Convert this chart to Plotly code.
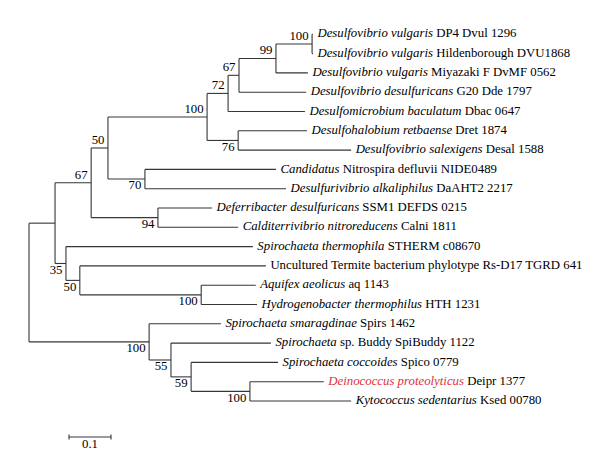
import plotly.graph_objects as go

# ---------------- data ----------------
leaf_italic = [
    "Desulfovibrio vulgaris", "Desulfovibrio vulgaris", "Desulfovibrio vulgaris",
    "Desulfovibrio desulfuricans", "Desulfomicrobium baculatum", "Desulfohalobium retbaense",
    "Desulfovibrio salexigens", "Candidatus", "Desulfurivibrio alkaliphilus",
    "Deferribacter desulfuricans", "Calditerrivibrio nitroreducens", "Spirochaeta thermophila",
    "", "Aquifex aeolicus", "Hydrogenobacter thermophilus", "Spirochaeta smaragdinae",
    "Spirochaeta", "Spirochaeta coccoides", "Deinococcus proteolyticus", "Kytococcus sedentarius",
]
leaf_rest = [
    " DP4 Dvul 1296", " Hildenborough DVU1868", " Miyazaki F DvMF 0562",
    " G20 Dde 1797", " Dbac 0647", " Dret 1874",
    " Desal 1588", " Nitrospira defluvii NIDE0489", " DaAHT2 2217",
    " SSM1 DEFDS 0215", " Calni 1811", " STHERM c08670",
    "Uncultured Termite bacterium phylotype Rs-D17 TGRD 641", " aq 1143", " HTH 1231", " Spirs 1462",
    " sp. Buddy SpiBuddy 1122", " Spico 0779", " Deipr 1377", " Ksed 00780",
]
# distance of each leaf tip from the root (substitutions per site)
leaf_depth = [0.676, 0.676, 0.664, 0.660, 0.657, 0.662, 0.767, 0.588, 0.612, 0.436,
              0.498, 0.533, 0.564, 0.540, 0.543, 0.457, 0.576, 0.593, 0.702, 0.767]
highlight_leaf = 18

node_names = ["H", "G", "F", "E", "I", "D", "J", "C", "K", "B", "N", "M", "L", "A",
              "R", "Q", "P", "O", "root"]
node_children = [
    ["L0", "L1"], ["H", "L2"], ["G", "L3"], ["F", "L4"], ["L5", "L6"], ["E", "I"],
    ["L7", "L8"], ["D", "J"], ["L9", "L10"], ["C", "K"], ["L13", "L14"], ["L12", "N"],
    ["L11", "M"], ["B", "L"], ["L18", "L19"], ["L17", "R"], ["L16", "Q"], ["L15", "P"],
    ["A", "O"],
]
node_depth = [0.674, 0.588, 0.500, 0.474, 0.498, 0.424, 0.276, 0.188, 0.307, 0.148,
              0.410, 0.121, 0.088, 0.062, 0.526, 0.386, 0.338, 0.286, 0.0]
node_support = [100, 99, 67, 72, 76, 100, 70, 50, 94, 67, 100, 50, 35, None,
                100, 59, 55, 100, None]

scale_bar_length = 0.1
scale_bar_label = "0.1"

# ---------------- layout helpers ----------------
PX_PER_UNIT = 420.0
ROOT_PX = 21.0
LEAF0_PX = 26.3
LEAF_STEP = 19.3
W, H = 600, 463

pos = {}
for i, d in enumerate(leaf_depth):
    pos["L%d" % i] = (d, float(i))

idx = {n: k for k, n in enumerate(node_names)}


def place(name):
    if name in pos:
        return pos[name]
    k = idx[name]
    ys = [place(c)[1] for c in node_children[k]]
    pos[name] = (node_depth[k], (min(ys) + max(ys)) / 2.0)
    return pos[name]


place("root")

lx, ly = [], []
for k, n in enumerate(node_names):
    x, y = pos[n]
    ys = [pos[c][1] for c in node_children[k]]
    lx += [x, x, None]
    ly += [min(ys), max(ys), None]
    for c in node_children[k]:
        cx, cy = pos[c]
        lx += [x, cx, None]
        ly += [cy, cy, None]

fig = go.Figure()
fig.add_trace(go.Scatter(x=lx, y=ly, mode="lines",
                         line=dict(color="#363636", width=1.1),
                         hoverinfo="skip", showlegend=False))

FONT = "Liberation Serif"

# leaf labels as a text trace
tx, ty, tt = [], [], []
for i in range(len(leaf_depth)):
    x, y = pos["L%d" % i]
    if leaf_italic[i]:
        it = "<i>%s</i>" % leaf_italic[i]
        if i == highlight_leaf:
            it = "<span style='color:#e0303c'>%s</span>" % it
        txt = it + leaf_rest[i]
    else:
        txt = leaf_rest[i]
    tx.append(x + 4.5 / PX_PER_UNIT)
    ty.append(y)
    tt.append(txt)
fig.add_trace(go.Scatter(x=tx, y=ty, text=tt, mode="text",
                         textposition="middle right", cliponaxis=False,
                         textfont=dict(family=FONT, size=12.8, color="#000000"),
                         hoverinfo="skip", showlegend=False))

# bootstrap values: placed at the node, above (upper child) / below (lower child)
parent_of = {}
for k, n in enumerate(node_names):
    for j, c in enumerate(node_children[k]):
        parent_of[c] = (n, j)
bx, by, bt = [], [], []
for k, n in enumerate(node_names):
    if node_support[k] is None:
        continue
    x, y = pos[n]
    _, j = parent_of[n]
    bx.append(x - 3.5 / PX_PER_UNIT)
    by.append(y + (-7.5 if j == 0 else 7.0) / LEAF_STEP)
    bt.append(str(node_support[k]))
fig.add_trace(go.Scatter(x=bx, y=by, text=bt, mode="text",
                         textposition="middle left", cliponaxis=False,
                         textfont=dict(family=FONT, size=12.8, color="#000000"),
                         hoverinfo="skip", showlegend=False))

# scale bar
sb_x0 = (61 - ROOT_PX) / PX_PER_UNIT
sb_y = (429 - LEAF0_PX) / LEAF_STEP
tick = 2.5 / LEAF_STEP
fig.add_trace(go.Scatter(
    x=[sb_x0, sb_x0 + scale_bar_length, None, sb_x0, sb_x0, None,
       sb_x0 + scale_bar_length, sb_x0 + scale_bar_length],
    y=[sb_y, sb_y, None, sb_y - tick, sb_y + tick, None, sb_y - tick, sb_y + tick],
    mode="lines", line=dict(color="#363636", width=1.1),
    hoverinfo="skip", showlegend=False))
fig.add_trace(go.Scatter(x=[sb_x0 + scale_bar_length / 2], y=[sb_y + 8 / LEAF_STEP],
                         text=[scale_bar_label], mode="text", textposition="middle center",
                         cliponaxis=False,
                         textfont=dict(family=FONT, size=12.8, color="#000000"),
                         hoverinfo="skip", showlegend=False))

fig.update_layout(
    width=W, height=H, margin=dict(l=0, r=0, t=0, b=0),
    paper_bgcolor="white", plot_bgcolor="white",
    font=dict(family=FONT),
    xaxis=dict(range=[-ROOT_PX / PX_PER_UNIT, (W - ROOT_PX) / PX_PER_UNIT],
               visible=False, fixedrange=True),
    yaxis=dict(range=[(H - LEAF0_PX) / LEAF_STEP, -LEAF0_PX / LEAF_STEP],
               visible=False, fixedrange=True),
)
fig.write_html("out.html")
